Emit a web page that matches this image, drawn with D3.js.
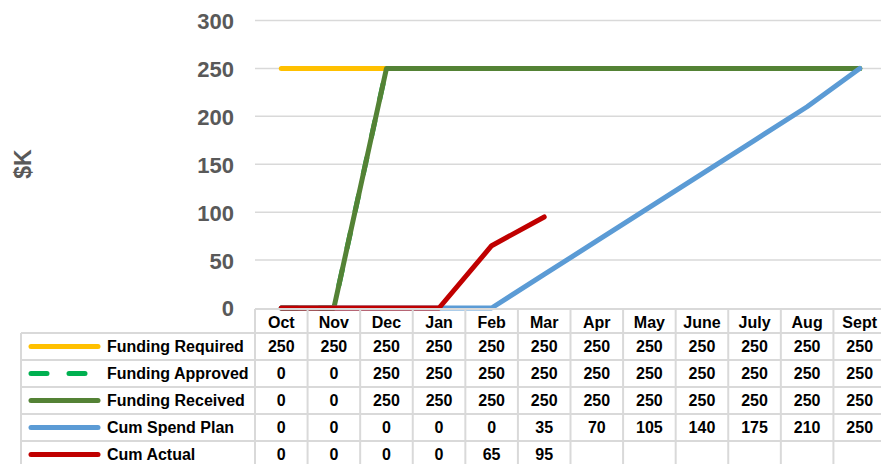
<!DOCTYPE html>
<html>
<head>
<meta charset="utf-8">
<script src="https://cdn.jsdelivr.net/npm/d3@7/dist/d3.min.js"></script>
<style>
  html, body { margin: 0; padding: 0; background: #fff; }
  svg { display: block; font-family: "Liberation Sans", Arial, sans-serif; }
</style>
</head>
<body>
<svg id="chart" width="881" height="464"></svg>
<script>
const months = ["Oct","Nov","Dec","Jan","Feb","Mar","Apr","May","June","July","Aug","Sept"];
const fundingRequired = [250,250,250,250,250,250,250,250,250,250,250,250];
const fundingApproved = [0,0,250,250,250,250,250,250,250,250,250,250];
const fundingReceived = [0,0,250,250,250,250,250,250,250,250,250,250];
const cumSpendPlan = [0,0,0,0,0,35,70,105,140,175,210,250];
const cumActual = [0,0,0,0,65,95];
const yTicks = [0,50,100,150,200,250,300];

const seriesNames = ["Funding Required","Funding Approved","Funding Received","Cum Spend Plan","Cum Actual"];
const seriesValues = [fundingRequired, fundingApproved, fundingReceived, cumSpendPlan, cumActual];
const seriesColors = ["#FFC000","#00B050","#548235","#5B9BD5","#C00000"];
const seriesDash = [null,"16,22",null,null,null];

const svg = d3.select("#chart");
const gridColor = "#D9D9D9";

const x = d3.scaleBand().domain(months).range([255, 886]).paddingInner(0).paddingOuter(0);
const y = d3.scaleLinear().domain([0,300]).range([308, 20.5]);

// gridlines
svg.append("g").selectAll("line").data(yTicks.filter(d => d > 0)).join("line")
  .attr("x1", 255).attr("x2", 881)
  .attr("y1", d => y(d)).attr("y2", d => y(d))
  .attr("stroke", gridColor).attr("stroke-width", 1.5);

// y axis labels
const yAxis = d3.axisLeft(y).tickValues(yTicks).tickSize(0).tickPadding(0);
const ga = svg.append("g").attr("transform", "translate(234,0)").call(yAxis);
ga.select(".domain").remove();
ga.selectAll("text")
  .attr("font-family", "'Liberation Sans', Arial, sans-serif")
  .attr("font-size", 22).attr("font-weight", "bold").attr("fill", "#595959")
  .attr("dy", "0.36em");

// axis title
svg.append("text")
  .attr("transform", "translate(31,164) rotate(-90)")
  .attr("text-anchor", "middle")
  .attr("font-size", 23).attr("font-weight", "bold").attr("fill", "#595959")
  .text("$K");

// series lines
const line = d3.line().x((d,i) => x(months[i]) + x.bandwidth()/2).y(d => y(d));
seriesValues.forEach((vals, k) => {
  svg.append("path")
    .attr("d", line(vals))
    .attr("fill", "none")
    .attr("stroke", seriesColors[k])
    .attr("stroke-width", 5)
    .attr("stroke-linecap", "round")
    .attr("stroke-linejoin", "round")
    .attr("stroke-dasharray", seriesDash[k]);
});

// table
const headerTop = 309, headerBottom = 333, rowH = 27;
const rowTop = i => headerBottom + i * rowH;
const tableBottom = rowTop(seriesNames.length);
const tg = svg.append("g");

// horizontal lines
tg.append("line").attr("x1", 255).attr("x2", 886).attr("y1", headerTop).attr("y2", headerTop)
  .attr("stroke", gridColor).attr("stroke-width", 2);
for (let i = 0; i <= seriesNames.length; i++) {
  tg.append("line").attr("x1", 21).attr("x2", 886).attr("y1", rowTop(i)).attr("y2", rowTop(i))
    .attr("stroke", gridColor).attr("stroke-width", 2);
}
// vertical lines
tg.append("line").attr("x1", 21).attr("x2", 21).attr("y1", headerBottom).attr("y2", tableBottom)
  .attr("stroke", gridColor).attr("stroke-width", 2);
months.forEach(m => {
  tg.append("line").attr("x1", x(m)).attr("x2", x(m)).attr("y1", headerTop).attr("y2", tableBottom)
    .attr("stroke", gridColor).attr("stroke-width", 2);
});

// header
tg.selectAll("text.hdr").data(months).join("text")
  .attr("class", "hdr")
  .attr("x", d => x(d) + x.bandwidth()/2)
  .attr("y", (headerTop + headerBottom)/2 + 1)
  .attr("dy", "0.36em")
  .attr("text-anchor", "middle")
  .attr("font-size", 16).attr("font-weight", "bold").attr("fill", "#000")
  .text(d => d);

// rows
seriesNames.forEach((name, k) => {
  const cy = rowTop(k) + rowH/2;
  tg.append("line")
    .attr("x1", 31).attr("x2", 98).attr("y1", cy).attr("y2", cy)
    .attr("stroke", seriesColors[k]).attr("stroke-width", 5)
    .attr("stroke-linecap", "round")
    .attr("stroke-dasharray", seriesDash[k]);
  tg.append("text")
    .attr("x", 107).attr("y", cy).attr("dy", "0.36em")
    .attr("font-size", 16).attr("font-weight", "bold").attr("fill", "#000")
    .text(name);
  seriesValues[k].forEach((v, i) => {
    tg.append("text")
      .attr("x", x(months[i]) + x.bandwidth()/2)
      .attr("y", cy).attr("dy", "0.36em")
      .attr("text-anchor", "middle")
      .attr("font-size", 16).attr("font-weight", "bold").attr("fill", "#000")
      .text(v);
  });
});
</script>
</body>
</html>
